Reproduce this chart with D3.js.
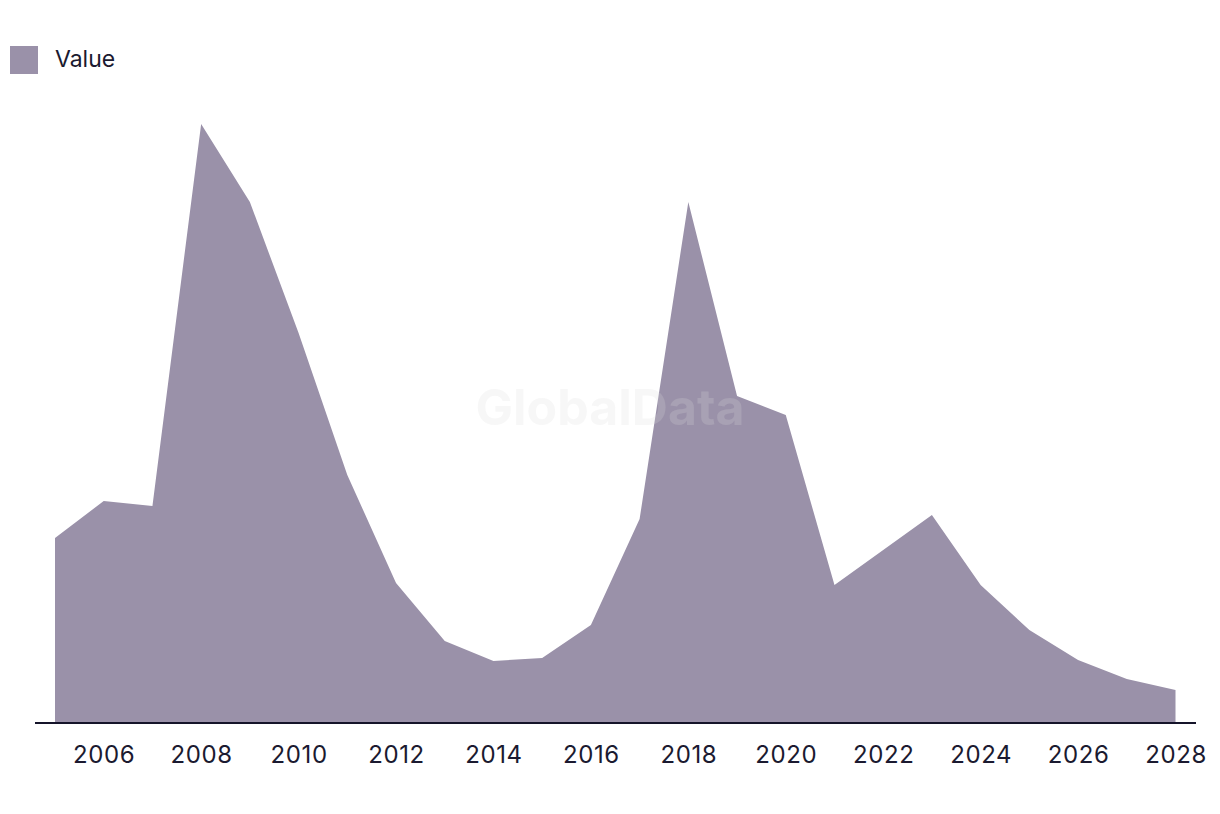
<!DOCTYPE html>
<html>
<head>
<meta charset="utf-8">
<script src="https://cdn.jsdelivr.net/npm/d3@7/dist/d3.min.js"></script>
<style>
  html, body { margin: 0; padding: 0; background: #fff; }
  svg text { font-family: Inter, "Liberation Sans", sans-serif; fill: #1b1a30; }
</style>
</head>
<body>
<svg id="chart" width="1220" height="814"></svg>
<script>
// Values (relative units, no y axis shown)
const years = d3.range(2005, 2029);
const values = [185, 222, 217, 599, 521, 390, 248, 140, 82, 62, 65, 98,
                204, 521, 327, 308, 138, 173, 208, 138, 93, 63, 44, 33];
const tickYears = [2006, 2008, 2010, 2012, 2014, 2016, 2018, 2020, 2022, 2024, 2026, 2028];
const seriesName = 'Value';

const areaColor = '#9a91a9';
const svg = d3.select('#chart');

// scales
const x = d3.scaleLinear().domain([2005, 2028]).range([55, 1175.5]);
const y = d3.scaleLinear().domain([0, 599]).range([723, 124]);

const data = years.map((yr, i) => ({ year: yr, value: values[i] }));

// area
const area = d3.area()
  .x((d) => x(d.year))
  .y0(y(0))
  .y1((d) => y(d.value));

svg.append('path')
  .datum(data)
  .attr('d', area)
  .attr('fill', areaColor);

// watermark sits on top of the area
svg.append('text')
  .attr('x', 610)
  .attr('y', 425)
  .attr('text-anchor', 'middle')
  .style('font-size', '50px')
  .style('font-weight', 'bold')
  .style('fill', '#dbdbdb')
  .style('fill-opacity', 0.22)
  .text('GlobalData');

// x axis
const xAxis = d3.axisBottom(x)
  .tickValues(tickYears)
  .tickFormat(d3.format('d'))
  .tickSize(0)
  .tickPadding(23);

const gx = svg.append('g')
  .attr('transform', `translate(0,${y(0)})`)
  .call(xAxis);
gx.select('.domain').remove();
gx.selectAll('text')
  .style('font-size', '24px')
  .style('letter-spacing', '0.6px')
  .attr('fill', '#1b1a30');

svg.append('line')
  .attr('x1', 35).attr('x2', 1196)
  .attr('y1', y(0)).attr('y2', y(0))
  .attr('stroke', '#15142a')
  .attr('stroke-width', 2);

// legend
const legend = svg.append('g');
legend.append('rect')
  .attr('x', 10).attr('y', 46)
  .attr('width', 28).attr('height', 28)
  .attr('fill', areaColor);
legend.append('text')
  .attr('x', 55).attr('y', 67)
  .style('font-size', '23px')
  .text(seriesName);
</script>
</body>
</html>
